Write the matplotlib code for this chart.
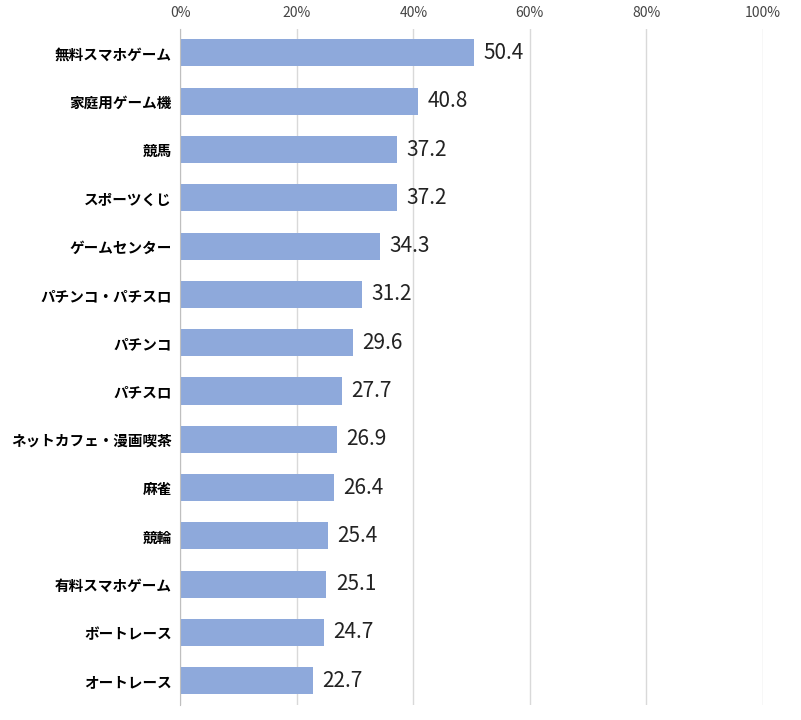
import matplotlib
matplotlib.use("Agg")
import matplotlib.pyplot as plt
from matplotlib.ticker import PercentFormatter

plt.rcParams['font.family'] = ['Noto Sans CJK JP', 'DejaVu Sans']

categories = ["無料スマホゲーム", "家庭用ゲーム機", "競馬", "スポーツくじ", "ゲームセンター",
              "パチンコ・パチスロ", "パチンコ", "パチスロ", "ネットカフェ・漫画喫茶", "麻雀",
              "競輪", "有料スマホゲーム", "ボートレース", "オートレース"]
values = [50.4, 40.8, 37.2, 37.2, 34.3, 31.2, 29.6, 27.7, 26.9, 26.4, 25.4, 25.1, 24.7, 22.7]

fig = plt.figure(figsize=(8.01, 7.2), dpi=100)
ax = fig.add_axes([0.225, 0.021, 0.7275, 0.939])

y = list(range(len(categories)))
ax.barh(y, values, height=0.56, color="#8EA9DB", zorder=2)
for yi, v in zip(y, values):
    ax.text(v + 1.6, yi, f"{v:.1f}", va="center", ha="left", fontsize=15, color="#222222")

ax.set_xlim(0, 100)
ax.set_ylim(len(categories) - 0.5, -0.5)
ax.set_yticks(y)
ax.set_yticklabels(categories, fontsize=10.5, fontweight="bold")
ax.set_xticks(range(0, 101, 20))
ax.xaxis.set_major_formatter(PercentFormatter(decimals=0))
ax.xaxis.tick_top()
ax.tick_params(axis="x", length=0, labelsize=10, colors="#444444", pad=6)
ax.tick_params(axis="y", length=0, pad=6)
ax.grid(axis="x", color="#D9D9D9", linewidth=1, zorder=0)
for s in ["top", "right", "bottom"]:
    ax.spines[s].set_visible(False)
ax.spines["left"].set_color("#BFBFBF")

fig.savefig("out.png", dpi=100)
